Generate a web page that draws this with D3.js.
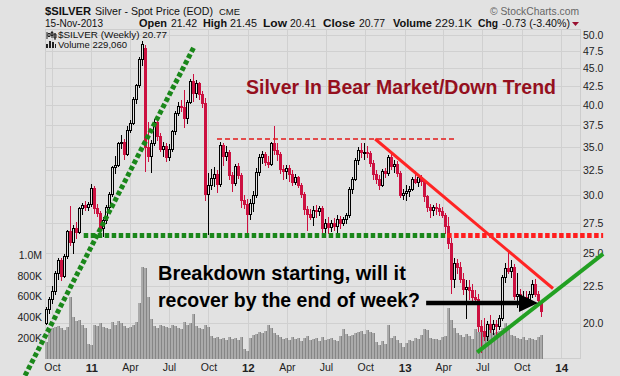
<!DOCTYPE html>
<html>
<head>
<meta charset="utf-8">
<script src="https://cdn.jsdelivr.net/npm/d3@7"></script>
<style>
body { margin: 0; background: #e2e2e2; }
svg { display: block; font-family: "Liberation Sans", Arial, sans-serif; }
</style>
</head>
<body>
<svg id="chart" width="620" height="376"></svg>
<script>

// ---- data (weekly bars, first bar = week ending 17-Sep-2010)
var FIRST_WEEK = "2010-09-17";

// [open, high, low, close]
var candles = [
  [20.0,21.0,19.9,20.9],[20.9,21.7,20.6,21.6],[21.6,22.5,21.3,22.1],[22.1,23.6,21.9,23.4],[23.4,24.6,23.0,24.4],
  [24.4,24.6,22.9,23.2],[23.2,24.9,23.1,24.7],[24.7,26.9,24.6,26.8],[26.8,29.0,25.6,25.9],[25.9,27.3,25.0,27.0],
  [27.0,27.6,26.2,26.7],[26.7,28.9,26.6,28.8],[28.8,29.3,28.3,29.1],[29.1,29.5,28.6,28.9],[28.9,29.4,28.6,29.2],
  [29.2,31.1,29.0,30.7],[30.7,30.9,28.4,28.8],[28.8,29.2,28.1,28.4],[28.4,28.5,26.5,27.0],[27.0,28.0,26.4,27.7],
  [27.7,29.1,27.5,28.9],[28.9,30.3,28.7,30.1],[30.1,32.9,29.9,32.8],[32.8,34.0,32.2,33.1],[33.1,35.6,32.9,35.4],
  [35.4,36.4,34.9,35.6],[35.6,35.9,33.7,34.2],[34.2,37.4,34.1,36.9],[36.9,38.2,36.7,37.8],[37.8,41.0,37.6,40.8],
  [40.8,42.8,40.3,42.6],[42.6,46.6,42.4,46.3],[46.3,49.0,45.5,48.6],[48.0,48.5,32.4,35.0],[35.0,37.9,33.5,34.0],
  [34.0,35.8,32.3,35.4],[35.4,38.3,35.2,37.9],[37.9,38.5,35.8,36.2],[36.2,36.6,34.6,34.8],[34.8,35.6,34.0,35.1],
  [35.1,35.5,33.5,33.9],[33.9,35.3,33.6,34.8],[34.8,37.0,34.6,36.8],[36.8,39.2,36.5,39.0],[39.0,40.4,38.8,39.9],
  [39.9,40.7,39.2,39.8],[39.8,42.0,37.3,38.4],[38.4,40.6,37.8,40.4],[40.4,43.5,40.2,43.2],[43.2,44.2,40.5,41.6],
  [41.6,43.3,41.0,42.9],[42.9,43.0,40.8,41.5],[41.5,41.8,39.8,40.3],[40.3,40.9,29.6,30.1],[30.1,32.2,26.5,31.0],
  [31.0,32.6,30.6,31.7],[31.7,32.8,30.9,32.1],[32.1,32.5,30.3,31.1],[31.1,35.6,30.9,35.2],[35.2,35.4,33.0,34.0],
  [34.0,35.1,33.6,34.4],[34.4,34.7,31.6,32.0],[32.0,32.3,30.4,31.2],[31.2,33.2,31.0,32.9],[32.9,33.3,31.7,32.0],
  [32.0,32.2,28.9,29.6],[29.6,30.0,28.8,29.2],[29.2,29.7,26.3,28.3],[28.3,29.7,27.8,29.3],[29.3,30.4,28.5,30.0],
  [30.0,32.7,29.8,32.3],[32.3,34.2,32.0,33.9],[33.9,34.6,33.3,34.2],[34.2,34.4,33.1,33.4],[33.4,34.0,32.8,33.2],
  [33.2,35.6,33.0,35.4],[35.4,37.4,34.2,34.7],[34.7,35.4,33.6,34.2],[34.2,34.5,32.2,32.6],[32.6,33.1,31.6,32.4],
  [32.4,33.0,31.7,32.7],[32.7,33.1,31.4,32.1],[32.1,32.5,31.0,31.3],[31.3,32.1,31.1,31.8],[31.8,31.9,30.8,31.0],
  [31.0,31.2,29.8,30.1],[30.1,30.3,28.3,28.7],[28.7,29.0,26.9,28.3],[28.3,28.7,27.8,28.0],[28.0,29.0,27.3,28.6],
  [28.6,29.1,28.0,28.5],[28.5,29.0,28.2,28.8],[28.8,29.0,26.7,27.0],[27.0,27.8,26.3,27.5],[27.5,28.0,26.6,27.1],
  [27.1,27.7,26.8,27.5],[27.5,27.9,26.9,27.2],[27.2,28.2,26.6,27.8],[27.8,28.1,27.0,27.5],[27.5,28.0,27.3,27.8],
  [27.8,28.4,27.5,28.2],[28.2,30.8,28.0,30.6],[30.6,31.8,30.2,31.6],[31.6,33.8,31.5,33.6],[33.6,35.0,33.2,34.7],
  [34.7,35.4,33.9,34.4],[34.4,35.4,33.7,34.5],[34.5,35.1,33.9,34.3],[34.3,34.6,32.9,33.3],[33.3,33.6,31.6,32.1],
  [32.1,32.5,31.2,31.6],[31.6,32.0,30.6,31.0],[31.0,32.6,30.9,32.4],[32.4,32.7,31.8,32.2],[32.2,34.1,32.0,33.9],
  [33.9,34.5,32.6,32.9],[32.9,33.6,32.3,33.2],[33.2,33.5,31.9,32.2],[32.2,32.4,29.8,30.0],[30.0,30.6,29.7,30.2],
  [30.2,31.0,29.6,30.4],[30.4,30.9,29.9,30.6],[30.6,31.8,30.5,31.6],[31.6,32.4,31.2,31.3],[31.3,32.1,30.9,31.8],
  [31.8,32.0,31.0,31.4],[31.4,31.6,29.5,29.9],[29.9,30.0,28.5,28.9],[28.9,29.2,28.0,28.6],[28.6,29.1,28.2,28.9],
  [28.9,29.3,28.3,28.8],[28.8,29.2,28.2,28.5],[28.5,28.9,28.0,28.2],[28.2,28.4,26.6,27.2],[27.2,28.0,25.4,25.8],
  [25.8,26.2,22.0,23.0],[23.0,24.6,22.4,24.2],[24.2,24.5,23.4,23.9],[23.9,24.3,22.8,23.0],[23.0,23.4,21.9,22.3],
  [22.3,22.9,20.3,22.4],[22.4,22.9,21.6,22.2],[22.2,22.6,21.5,21.7],[21.7,22.2,21.2,21.6],[21.6,21.9,19.5,19.8],
  [19.8,20.2,18.2,19.5],[19.5,20.3,18.9,19.2],[19.2,20.1,18.9,19.9],[19.9,20.5,19.4,19.6],[19.6,20.2,19.3,19.9],
  [19.9,20.2,19.1,19.8],[19.8,20.5,19.6,20.3],[20.3,23.3,20.2,23.1],[23.1,24.2,22.8,23.8],[23.8,25.1,23.4,23.6],
  [23.6,24.4,23.1,23.9],[23.9,24.1,21.6,21.8],[21.8,23.4,21.0,21.9],[21.9,22.3,21.3,21.7],[21.7,22.1,21.3,21.7],
  [21.7,22.1,21.0,21.6],[21.6,22.1,21.2,21.9],[21.9,22.9,21.7,22.6],[22.6,23.0,21.8,21.9],[21.9,22.1,21.2,21.5],
  [21.42,21.45,20.41,20.77]
];

// weekly volume, thousands
var volumeK = [
  160,290,300,310,320,300,280,310,600,400,
  360,370,330,300,140,130,330,320,340,310,
  300,290,350,330,360,340,320,300,310,330,
  350,540,880,870,600,380,320,300,330,320,
  310,300,330,320,300,290,350,330,340,430,
  320,300,290,330,310,220,200,210,190,200,
  180,210,190,200,180,210,90,70,200,230,
  240,260,250,270,330,300,250,230,210,190,
  200,180,210,190,200,170,200,220,180,190,
  200,170,210,180,190,200,180,170,220,290,
  240,220,230,250,260,270,240,280,260,250,
  160,130,170,140,330,200,220,180,150,110,
  150,180,170,200,190,230,290,280,200,190,
  190,180,210,220,490,370,300,250,230,210,
  240,220,190,290,260,290,250,230,280,250,
  260,270,300,340,310,230,220,200,190,210,
  180,200,190,180,210,229
];

var priceTicks = [20, 22.5, 25, 27.5, 30, 32.5, 35, 37.5, 40, 42.5, 45, 47.5, 50];
var volumeTicks = [200, 400, 600, 800, 1000];
var volumeTickLabels = ["200K", "400K", "600K", "800K", "1.0M"];
var monthTicks = ["2010-10-01","2011-01-01","2011-04-01","2011-07-01","2011-10-01","2012-01-01","2012-04-01",
                  "2012-07-01","2012-10-01","2013-01-01","2013-04-01","2013-07-01","2013-10-01","2014-01-01"];
var monthLabels = ["Oct","11","Apr","Jul","Oct","12","Apr","Jul","Oct","13","Apr","Jul","Oct","14"];

// hand drawn annotation lines, [date, price] ends
var trendLines = [
  {kind: "greenDots", from: ["2010-07-30", 16.9], to: ["2011-08-28", 48.1]},
  {kind: "greenDots", from: ["2010-12-14", 26.4], to: ["2013-04-10", 26.4]},
  {kind: "redDots",   from: ["2013-04-10", 26.4], to: ["2014-04-09", 26.4]},
  {kind: "redDash",   from: ["2011-10-21", 35.9], to: ["2013-04-26", 35.9]},
  {kind: "redSolid",  from: ["2012-10-24", 35.9], to: ["2013-12-13", 22.3]},
  {kind: "greenSolid",from: ["2013-06-19", 18.2], to: ["2014-04-09", 24.9]}
];
var arrowLine = {from: ["2013-02-20", 21.3], to: ["2013-11-08", 21.3]};

var lineStyles = {
  greenDots:  {stroke: "#1a871a", width: 5,   dash: "4.5 2.5"},
  redDots:    {stroke: "#ff1e1e", width: 5,   dash: "4.5 2.5"},
  redDash:    {stroke: "#e41b1b", width: 1.6, dash: "5 3"},
  redSolid:   {stroke: "#ff2424", width: 3,   dash: null},
  greenSolid: {stroke: "#22a022", width: 4,   dash: null}
};

// header pieces: text, x, width, bold, size
var headerTop = [["$SILVER", 45, 46, true, 11], ["Silver - Spot Price (EOD)", 95, 118, false, 10.5], ["CME", 219, 21, false, 9.5]];
var headerStats = [["15-Nov-2013", 45, 58, false], ["Open", 139, 28, true], ["21.42", 171, 26, false],
                   ["High", 203, 24, true], ["21.45", 230, 27, false], ["Low", 263, 24, true], ["20.41", 290, 26, false],
                   ["Close", 323, 32, true], ["20.77", 359, 26, false], ["Volume", 393, 39, true], ["229.1K", 435, 37, false],
                   ["Chg", 478, 20, true], ["-0.73 (-3.40%)", 502, 68, false]];

var RED = "#cc1040";
var BG = "#e2e2e2";

function renderChart(svgId){
    var svg = d3.select('#'+svgId);
    var parseDate = d3.timeParse("%Y-%m-%d");
    var first = parseDate(FIRST_WEEK);

    var rows = candles.map(function(c, i){
        return {date: d3.timeDay.offset(first, 7*i), o: c[0], h: c[1], l: c[2], c: c[3], v: volumeK[i]};
    });

    var plot = {left: 45, right: 580, top: 29, bottom: 358};

    var xScale = d3.scaleTime().domain([first, rows[rows.length-1].date]).range([46, 541]);
    var yScale = d3.scaleLog().domain([20, 50]).range([322.7, 35]);
    var vScale = d3.scaleLinear().domain([0, 1000]).range([358.75, 255]);

    function px(d){ return Math.round(xScale(d)); }
    function py(p){ return Math.round(yScale(p)); }

    // plot frame + grid
    svg.append("rect").attr("width", 620).attr("height", 376).attr("fill", BG);
    svg.append("rect")
        .attr("x", plot.left + 0.5).attr("y", plot.top + 0.5)
        .attr("width", plot.right - plot.left).attr("height", plot.bottom - plot.top)
        .attr("fill", "none").attr("stroke", "#cdcdcd");

    svg.append("g").selectAll("line").data(priceTicks).join("line")
        .attr("x1", plot.left).attr("x2", plot.right)
        .attr("y1", function(d){ return py(d) + 0.5 }).attr("y2", function(d){ return py(d) + 0.5 })
        .attr("stroke", "#d0d0d0");

    var monthDates = monthTicks.map(parseDate);
    svg.append("g").selectAll("line").data(monthDates).join("line")
        .attr("x1", function(d){ return px(d) + 0.5 }).attr("x2", function(d){ return px(d) + 0.5 })
        .attr("y1", plot.top).attr("y2", plot.bottom)
        .attr("stroke", "#d0d0d0");

    // volume bars
    var vg = svg.append("g");
    vg.selectAll("rect.vb").data(rows).join("rect")
        .attr("class", "vb")
        .attr("x", function(d){ return px(d.date) - 1 })
        .attr("width", 2)
        .attr("y", function(d){ return Math.round(vScale(d.v)) })
        .attr("height", function(d){ return 359 - Math.round(vScale(d.v)) })
        .attr("fill", "#ababab");
    vg.selectAll("rect.ve").data(rows).join("rect")
        .attr("class", "ve")
        .attr("x", function(d){ return px(d.date) + 1 })
        .attr("width", 1)
        .attr("y", function(d){ return Math.round(vScale(d.v)) })
        .attr("height", function(d){ return 359 - Math.round(vScale(d.v)) })
        .attr("fill", "#868686");

    // candles
    var cg = svg.append("g");
    function up(d){ return d.c >= d.o }
    cg.selectAll("line").data(rows).join("line")
        .attr("x1", function(d){ return px(d.date) + 0.5 })
        .attr("x2", function(d){ return px(d.date) + 0.5 })
        .attr("y1", function(d){ return py(d.h) })
        .attr("y2", function(d){ return py(d.l) + 1 })
        .attr("stroke", function(d){ return up(d) ? "#000" : RED });
    cg.selectAll("rect").data(rows).join("rect")
        .attr("x", function(d){ return px(d.date) - 0.5 })
        .attr("width", 2)
        .attr("y", function(d){ return py(Math.max(d.o, d.c)) + 0.5 })
        .attr("height", function(d){ return Math.max(1, py(Math.min(d.o, d.c)) - py(Math.max(d.o, d.c))) })
        .attr("fill", function(d){ return up(d) ? BG : RED })
        .attr("stroke", function(d){ return up(d) ? "#000" : RED })
        .attr("stroke-width", 1);

    // axes
    var axisFont = function(g){
        g.select(".domain").remove();
        g.selectAll("text").attr("font-family", '"Liberation Sans", Arial, sans-serif')
            .attr("font-size", 10.5).attr("fill", "#222");
    };
    svg.append("g").attr("transform", "translate(" + plot.right + ",0)")
        .call(d3.axisRight(yScale).tickValues(priceTicks).tickFormat(d3.format(".1f")).tickSize(0).tickPadding(3))
        .call(axisFont);
    svg.append("g").attr("transform", "translate(" + plot.left + ",0)")
        .call(d3.axisLeft(vScale).tickValues(volumeTicks)
            .tickFormat(function(d, i){ return volumeTickLabels[i] }).tickSize(0).tickPadding(3))
        .call(axisFont);
    var xa = svg.append("g").attr("transform", "translate(0," + plot.bottom + ")")
        .call(d3.axisBottom(xScale).tickValues(monthDates)
            .tickFormat(function(d, i){ return monthLabels[i] }).tickSize(0).tickPadding(6))
        .call(axisFont);
    xa.selectAll("text").attr("font-weight", function(d, i){ return /^\d/.test(monthLabels[i]) ? "bold" : null })
        .attr("font-size", function(d, i){ return /^\d/.test(monthLabels[i]) ? 11.5 : 10.5 });

    // annotation lines
    var ag = svg.append("g");
    trendLines.forEach(function(t){
        var st = lineStyles[t.kind];
        ag.append("line")
            .attr("x1", xScale(parseDate(t.from[0]))).attr("y1", yScale(t.from[1]))
            .attr("x2", xScale(parseDate(t.to[0]))).attr("y2", yScale(t.to[1]))
            .attr("stroke", st.stroke).attr("stroke-width", st.width)
            .attr("stroke-dasharray", st.dash);
    });

    var ax1 = xScale(parseDate(arrowLine.from[0])), ax2 = xScale(parseDate(arrowLine.to[0])),
        ay = yScale(arrowLine.from[1]);
    ag.append("line").attr("x1", ax1).attr("x2", ax2 - 16).attr("y1", ay).attr("y2", ay)
        .attr("stroke", "#000").attr("stroke-width", 4.5);
    ag.append("path")
        .attr("d", "M" + ax2 + "," + ay + "L" + (ax2 - 19) + "," + (ay - 9) + "L" + (ax2 - 19) + "," + (ay + 9) + "Z")
        .attr("fill", "#000");

    // annotation text
    svg.append("text").attr("x", 401).attr("y", 94).attr("text-anchor", "middle")
        .attr("font-size", 19.5).attr("font-weight", "bold").attr("fill", "#95101e")
        .text("Silver In Bear Market/Down Trend");
    svg.append("text").attr("x", 158).attr("y", 280)
        .attr("font-size", 20).attr("font-weight", "bold").attr("fill", "#000")
        .text("Breakdown starting, will it");
    svg.append("text").attr("x", 158).attr("y", 307)
        .attr("font-size", 20).attr("font-weight", "bold").attr("fill", "#000")
        .attr("textLength", 262).attr("lengthAdjust", "spacingAndGlyphs")
        .text("recover by the end of week?");

    // header
    svg.append("g").selectAll("text").data(headerTop).join("text")
        .attr("x", function(d){ return d[1] }).attr("y", 15)
        .attr("textLength", function(d){ return d[2] }).attr("lengthAdjust", "spacingAndGlyphs")
        .attr("font-weight", function(d){ return d[3] ? "bold" : null })
        .attr("font-size", function(d){ return d[4] }).attr("fill", "#111")
        .text(function(d){ return d[0] });
    svg.append("text").attr("x", 490).attr("y", 14.5)
        .attr("textLength", 89).attr("lengthAdjust", "spacingAndGlyphs")
        .attr("font-size", 10.5).attr("fill", "#666").text("\u00a9 StockCharts.com");

    svg.append("g").selectAll("text").data(headerStats).join("text")
        .attr("x", function(d){ return d[1] }).attr("y", 27)
        .attr("textLength", function(d){ return d[2] }).attr("lengthAdjust", "spacingAndGlyphs")
        .attr("font-weight", function(d){ return d[3] ? "bold" : null })
        .attr("font-size", function(d){ return d[3] ? 11 : 10.5 }).attr("fill", "#111")
        .text(function(d){ return d[0] });
    svg.append("path").attr("d", "M572,22L579,22L575.5,26Z").attr("fill", "#9a1030");

    // legend
    var lg = svg.append("g");
    lg.append("path").attr("d", "M47,32V39M48,33.5h2v3h-2zM52,31V38M51,32.5h2v3h-2zM55,33V40M54,34h2v4h-2z")
        .attr("stroke", "#222").attr("fill", "none").attr("stroke-width", 1);
    lg.append("text").attr("x", 58).attr("y", 37.5).attr("font-size", 9.5).attr("fill", "#111")
        .attr("textLength", 109).attr("lengthAdjust", "spacingAndGlyphs")
        .text("$SILVER (Weekly) 20.77");
    lg.append("path").attr("d", "M46,44h2v4h-2zM49,41h2v7h-2zM52,42h2v6h-2zM55,44h1v4h-1z")
        .attr("fill", "#222");
    lg.append("text").attr("x", 58).attr("y", 48.3).attr("font-size", 9.5).attr("fill", "#111")
        .attr("textLength", 69).attr("lengthAdjust", "spacingAndGlyphs")
        .text("Volume 229,060");
}

renderChart("chart");
</script>
</body>
</html>
